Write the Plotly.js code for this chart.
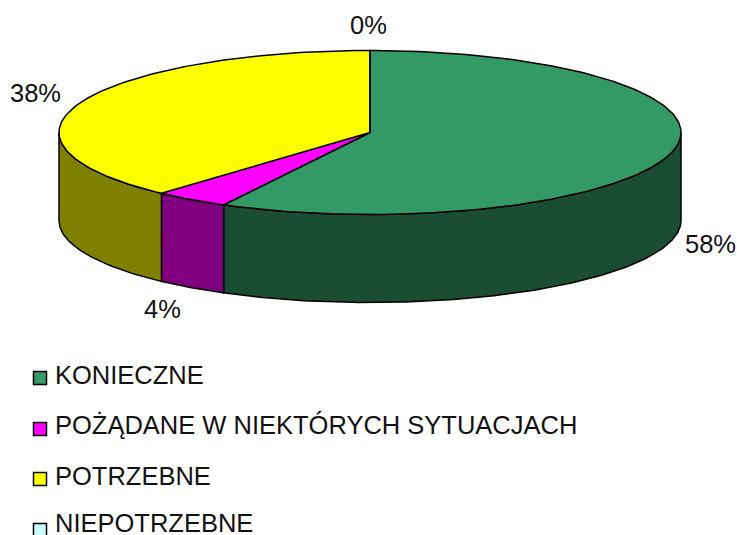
<!DOCTYPE html>
<html>
<head>
<meta charset="utf-8">
<script src="https://cdn.plot.ly/plotly-3.0.1.min.js"></script>
<style>html,body{margin:0;padding:0;background:#fff;overflow:hidden}</style>
</head>
<body>
<div id="chart" style="width:737px;height:535px"></div>
<script>
const categories = ["KONIECZNE", "POŻĄDANE W NIEKTÓRYCH SYTUACJACH", "POTRZEBNE", "NIEPOTRZEBNE"];
const values = [57.8, 3.9, 38.3, 0];
const percentLabels = ["58%", "4%", "38%", "0%"];
const topColors = ["#339966", "#ff00ff", "#ffff00", "#ccffff"];
const sideColors = ["#1a4d33", "#800080", "#808000", "#668080"];

// Pie geometry in axis units (axes span the page)
const cx = 370, cy = 132.5, rx = 311, ry = 82, depth = 88;
const labelPos = [[710, 244], [162, 309], [35.5, 93], [368, 25]];
const legendX = 40, legendTextX = 53, legendY = [378, 429, 479, 530], legendTextY = [375, 425, 476, 523];

const total = values.reduce((a, b) => a + b, 0);
const px = a => cx + rx * Math.sin(a * Math.PI / 180);
const py = (a, dy) => cy - ry * Math.cos(a * Math.PI / 180) + dy;
const arc = (a0, a1, dy) => {
  const pts = [], n = Math.max(1, Math.ceil(Math.abs(a1 - a0)));
  for (let i = 0; i <= n; i++) {
    const a = a0 + (a1 - a0) * i / n;
    pts.push([px(a), py(a, dy)]);
  }
  return pts;
};
const poly = (pts, fill) => ({
  type: "scatter", mode: "lines", x: pts.map(p => p[0]), y: pts.map(p => p[1]),
  fill: "toself", fillcolor: fill, line: {color: "#000", width: 1.5},
  hoverinfo: "skip", showlegend: false
});

const walls = [], tops = [];
let start = 0;
values.forEach((v, i) => {
  const end = start + v / total * 360;
  const a0 = Math.max(start, 90), a1 = Math.min(end, 270);
  if (a1 > a0) {
    const pts = arc(a0, a1, 0).concat(arc(a1, a0, depth));
    pts.push(pts[0]);
    walls.push(poly(pts, sideColors[i]));
  }
  const wedge = [[cx, cy]].concat(arc(start, end, 0));
  wedge.push([cx, cy]);
  tops.push(poly(wedge, topColors[i]));
  start = end;
});

const swatches = {
  type: "scatter", mode: "markers", x: categories.map(() => legendX), y: legendY,
  marker: {symbol: "square", size: 13, color: topColors, line: {color: "#000", width: 1.5}},
  text: categories, hoverinfo: "text", showlegend: false
};

const annotations = percentLabels.map((t, i) => ({
  x: labelPos[i][0], y: labelPos[i][1], text: t, showarrow: false,
  xanchor: "center", yanchor: "middle", font: {size: 25.5}
})).concat(categories.map((t, i) => ({
  x: legendTextX, y: legendTextY[i], text: t, showarrow: false,
  xanchor: "left", yanchor: "middle", font: {size: 25.5}
})));

const axis = {visible: false, fixedrange: true};
Plotly.newPlot("chart", walls.concat(tops, [swatches]), {
  width: 737, height: 535, margin: {l: 0, r: 0, t: 0, b: 0},
  paper_bgcolor: "#fff", plot_bgcolor: "#fff",
  font: {family: '"Liberation Sans", Arial, sans-serif', color: "#111"},
  xaxis: Object.assign({range: [0, 737]}, axis),
  yaxis: Object.assign({range: [535, 0]}, axis),
  annotations, showlegend: false
}, {displayModeBar: false, staticPlot: true});
</script>
</body>
</html>
